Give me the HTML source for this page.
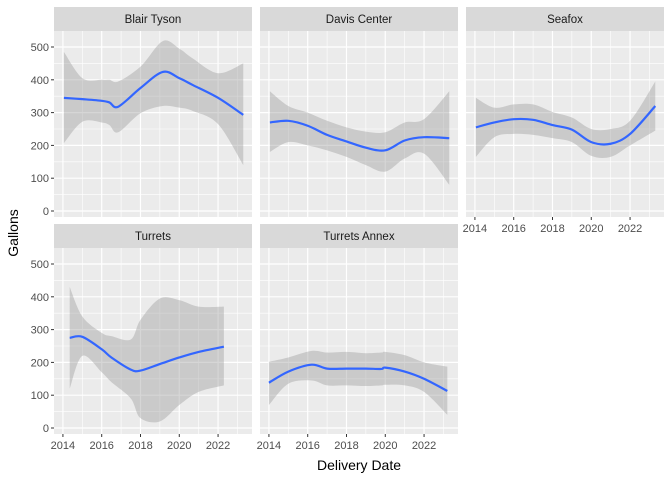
<!DOCTYPE html>
<html><head><meta charset="utf-8"><style>body{margin:0;background:#fff}svg{display:block}text{font-family:"Liberation Sans",sans-serif}</style></head>
<body>
<svg id="c" width="672" height="480"></svg>
<script>
const facetNames=["Blair Tyson","Davis Center","Seafox","Turrets","Turrets Annex"];
const btYears=[2014.05,2015,2016,2016.4,2016.85,2018,2019.15,2020,2020.7,2022,2023.3];
const btMean=[345,341,336,331,318,375,424,405,384,345,293];
const btLo=[207,272,270,262,240,298,320,315,305,265,140];
const btHi=[485,405,400,400,395,440,518,495,465,420,450];
const dcYears=[2014.05,2015,2016,2017,2018,2019,2020,2021,2022,2023.3];
const dcMean=[270,275,260,232,212,193,185,215,225,222];
const dcLo=[180,210,200,185,165,140,120,160,175,80];
const dcHi=[365,320,300,275,255,242,240,270,280,365];
const sfYears=[2014.05,2015,2016,2017,2018,2019,2020,2021,2022,2023.3];
const sfMean=[255,270,280,278,262,248,210,205,235,320];
const sfLo=[165,225,235,232,222,210,168,165,200,245];
const sfHi=[345,315,325,325,302,285,250,250,275,395];
const tuYears=[2014.35,2015,2016,2016.5,2017.5,2018,2019,2020,2021,2022.3];
const tuMean=[275,278,240,215,178,175,195,215,232,248];
const tuLo=[120,220,170,140,90,30,20,70,110,130];
const tuHi=[430,340,290,280,270,330,395,390,370,370];
const taYears=[2014,2015,2016.2,2017,2018,2019,2019.8,2020,2021,2022,2023.2];
const taMean=[138,172,193,181,181,181,180,184,172,150,113];
const taLo=[70,135,145,130,130,128,130,132,130,110,40];
const taHi=[202,215,235,230,232,228,230,232,222,200,187];
const yTicks=[0,100,200,300,400,500];
const xTicks=[2014,2016,2018,2020,2022];
const series=[[btYears,btMean,btLo,btHi],[dcYears,dcMean,dcLo,dcHi],[sfYears,sfMean,sfLo,sfHi],[tuYears,tuMean,tuLo,tuHi],[taYears,taMean,taLo,taHi]];
const NS="http://www.w3.org/2000/svg",svg=document.getElementById('c');
function el(t,a,p){const e=document.createElementNS(NS,t);for(const k in a)e.setAttribute(k,a[k]);(p||svg).appendChild(e);return e;}
const colX=[54,260,466],W=198,rowY=[31,248],H=186,stripH=24;
const x0=2013.54,x1=2023.75,y0=-18.3,y1=548.8;
function sx(c,v){return colX[c]+(v-x0)/(x1-x0)*W;}
function sy(r,v){return rowY[r]+H-(v-y0)/(y1-y0)*H;}
function spline(pts){let d="M"+pts[0][0]+","+pts[0][1];for(let i=0;i<pts.length-1;i++){const p0=pts[Math.max(0,i-1)],p1=pts[i],p2=pts[i+1],p3=pts[Math.min(pts.length-1,i+2)];d+=" C"+(p1[0]+(p2[0]-p0[0])/6)+","+(p1[1]+(p2[1]-p0[1])/6)+" "+(p2[0]-(p3[0]-p1[0])/6)+","+(p2[1]-(p3[1]-p1[1])/6)+" "+p2[0]+","+p2[1];}return d;}
facetNames.forEach((name,i)=>{
 const c=i%3,r=Math.floor(i/3),g=el('g',{});
 
 
 const X=colX[c],Y=rowY[r];
 const st=el('rect',{x:X,y:Y-stripH,width:W,height:stripH,fill:'#d9d9d9'},g);
 
 const tt=el('text',{x:X+W/2,y:Y-stripH/2+4,'text-anchor':'middle','font-size':'11.5',fill:'#1a1a1a'},g);tt.textContent=name;
 
 const bg=el('rect',{x:X,y:Y,width:W,height:H,fill:'#ebebeb'},g);
 
 for(let v=50;v<550;v+=100)el('line',{x1:X,x2:X+W,y1:sy(r,v),y2:sy(r,v),stroke:'#fff','stroke-width':0.6},g);
 for(let v=2015;v<2024;v+=2)el('line',{x1:sx(c,v),x2:sx(c,v),y1:Y,y2:Y+H,stroke:'#fff','stroke-width':0.6},g);
 yTicks.forEach(v=>el('line',{x1:X,x2:X+W,y1:sy(r,v),y2:sy(r,v),stroke:'#fff','stroke-width':1.2},g));
 xTicks.forEach(v=>el('line',{x1:sx(c,v),x2:sx(c,v),y1:Y,y2:Y+H,stroke:'#fff','stroke-width':1.2},g));
 const [ys,m,lo,hi]=series[i];
 const up=ys.map((v,k)=>[sx(c,v),sy(r,hi[k])]),dn=ys.map((v,k)=>[sx(c,v),sy(r,lo[k])]).reverse();
 const bd=spline(up)+" L"+spline(dn).slice(1)+" Z";
 const band=el('path',{d:bd,fill:'#999','fill-opacity':0.4},g);
 
 const ln=el('path',{d:spline(ys.map((v,k)=>[sx(c,v),sy(r,m[k])])),fill:'none',stroke:'#3366ff','stroke-width':2.2},g);
 
 if(c===0){yTicks.forEach(v=>{el('line',{x1:X-3,x2:X,y1:sy(r,v),y2:sy(r,v),stroke:'#333'},g);
  const t=el('text',{x:X-5,y:sy(r,v)+4,'text-anchor':'end','font-size':'11',fill:'#4d4d4d'},g);t.textContent=v;
  });}
 if(r===1||c===2){xTicks.forEach(v=>{el('line',{x1:sx(c,v),x2:sx(c,v),y1:Y+H,y2:Y+H+3,stroke:'#333'},g);
  const t=el('text',{x:sx(c,v),y:Y+H+15,'text-anchor':'middle','font-size':'11',fill:'#4d4d4d'},g);t.textContent=v;
  });}
});
const xt=el('text',{x:359,y:470,'text-anchor':'middle','font-size':'14',fill:'#000'});xt.textContent="Delivery Date";

const yt=el('text',{x:18,y:233,'text-anchor':'middle','font-size':'14',fill:'#000',transform:'rotate(-90 18 233)'});yt.textContent="Gallons";

</script>
</body></html>
